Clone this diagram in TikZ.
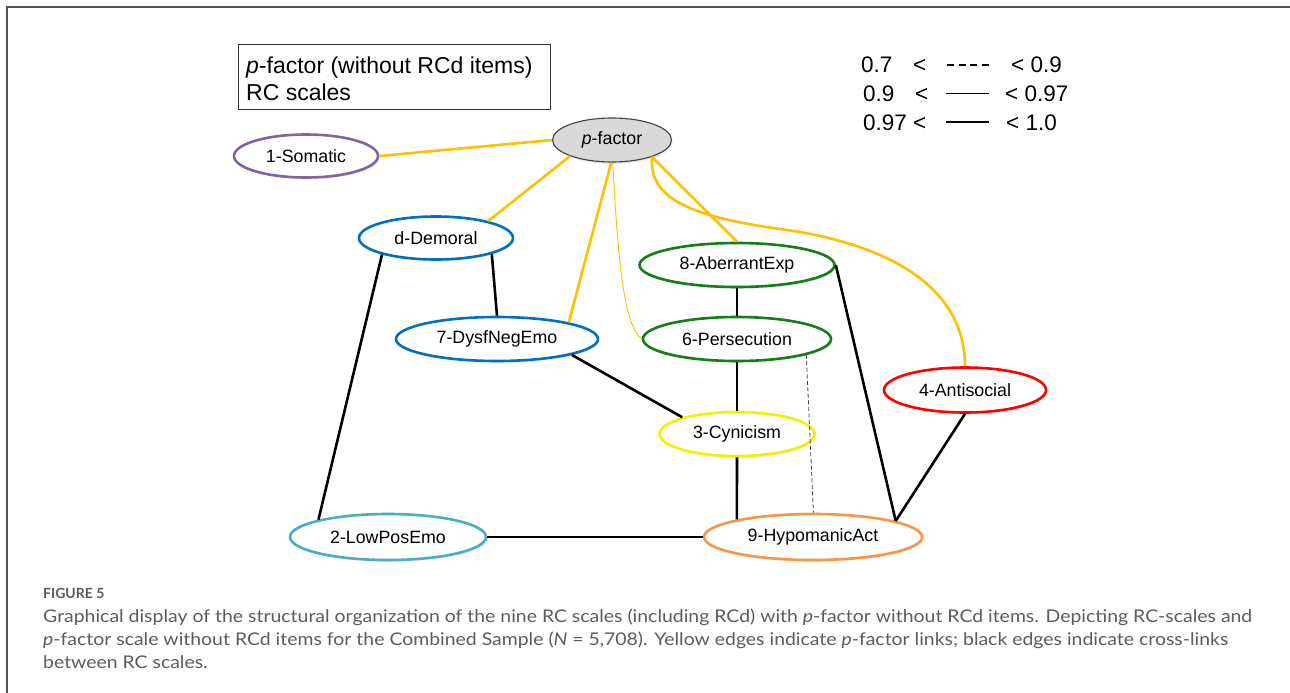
\documentclass[tikz,border=0pt]{standalone}
\usepackage{fontspec}
\usepackage{graphicx}
\setmainfont{Liberation Sans}
\newfontfamily\latofont{Lato}
\usetikzlibrary{shapes.geometric,shadows}
\definecolor{framegray}{RGB}{85,85,85}
\definecolor{somcol}{RGB}{128,100,162}
\definecolor{bluecol}{RGB}{0,112,192}
\definecolor{greencol}{RGB}{20,125,20}
\definecolor{yelcol}{RGB}{245,240,0}
\definecolor{redcol}{RGB}{255,0,0}
\definecolor{aquacol}{RGB}{75,172,198}
\definecolor{orangecol}{RGB}{247,150,70}
\definecolor{edgegold}{RGB}{255,192,0}
\definecolor{pffill}{RGB}{217,217,217}
\definecolor{pfline}{RGB}{64,64,64}
\definecolor{capgray}{RGB}{92,92,92}
\newlength\capw
\newcommand\mycapfont{\latofont\fontsize{17.5}{20}\selectfont}
\begin{document}
\settowidth{\capw}{\mycapfont Graphical display of the structural organization of the nine RC scales (including RCd) with \textit{p}-factor without RCd items. Depicting RC-scales and}%
\pgfmathsetmacro\capsc{1209/\capw}%
\begin{tikzpicture}[x=1pt,y=-1pt,
  rcnode/.style={ellipse, draw, line width=2.6pt, fill=white, inner sep=0pt,
    font=\fontsize{17.8}{20}\selectfont,
    drop shadow={opacity=0.18,shadow xshift=1.2pt,shadow yshift=-1.8pt}},
  pedge/.style={draw=edgegold, line width=2.6pt},
  pthin/.style={draw=edgegold, line width=0.9pt},
  xedge/.style={draw=black, line width=2.6pt},
  dedge/.style={draw=black!75, line width=0.8pt, dash pattern=on 4pt off 2.5pt},
  legtxt/.style={anchor=base west, inner sep=0pt, font=\fontsize{22.5}{26}\selectfont},
  captxt/.style={anchor=base west, inner sep=0pt, text=capgray}]
\useasboundingbox (0,0) rectangle (1290,693);
\fill[white] (0,0) rectangle (1290,693);
% frame
\draw[framegray, line width=1.6pt] (7,693) -- (7,7) -- (1290,7);
% legend box
\draw[line width=0.9pt, draw=black!80] (238,44) rectangle (550,109);
\node[legtxt, font=\fontsize{23}{26}\selectfont] (lb1) at (246,74) {\textit{p}-factor (without RCd items)};
\node[legtxt, font=\fontsize{23}{26}\selectfont] (lb2) at (246,100) {RC scales};
% line-style legend
\node[legtxt] (l1a) at (861,73) {0.7};
\node[legtxt] (l1b) at (913,73) {<};
\node[legtxt] (l1c) at (1011,73) {< 0.9};
\node[legtxt] (l2a) at (863,101) {0.9};
\node[legtxt] (l2b) at (915,101) {<};
\node[legtxt] (l2c) at (1005,101) {< 0.97};
\node[legtxt] (l3a) at (863,130) {0.97};
\node[legtxt] (l3b) at (913,130) {<};
\node[legtxt] (l3c) at (1006,130) {< 1.0};
\draw[black, line width=1.2pt, dash pattern=on 7pt off 4.5pt] (947,65) -- (990,65);
\draw[black, line width=0.7pt] (946,93) -- (989,93);
\draw[black, line width=2.2pt] (946,122) -- (989,122);
% nodes
\node[ellipse, draw=pfline, fill=pffill, line width=1.1pt, inner sep=0pt,
  minimum width=119pt, minimum height=44pt, font=\fontsize{17.8}{20}\selectfont,
  drop shadow={opacity=0.18,shadow xshift=1.2pt,shadow yshift=-1.8pt}]
  (pf) at (612,140) {\textit{p}-factor};
\node[rcnode, draw=somcol, minimum width=144pt, minimum height=43pt] (som) at (306,156) {1-Somatic};
\node[rcnode, draw=bluecol, minimum width=154pt, minimum height=43pt] (dem) at (436,238) {d-Demoral};
\node[rcnode, draw=bluecol, minimum width=202pt, minimum height=44pt] (dys) at (497,339) {7-DysfNegEmo};
\node[rcnode, draw=greencol, minimum width=195pt, minimum height=44pt] (abe) at (737,265) {8-AberrantExp};
\node[rcnode, draw=greencol, minimum width=188pt, minimum height=44pt] (per) at (737,339) {6-Persecution};
\node[rcnode, draw=yelcol, minimum width=155pt, minimum height=44pt] (cyn) at (737,434) {3-Cynicism};
\node[rcnode, draw=redcol, minimum width=162pt, minimum height=45pt] (ant) at (965,390) {4-Antisocial};
\node[rcnode, draw=aquacol, minimum width=196pt, minimum height=46pt] (low) at (388,537) {2-LowPosEmo};
\node[rcnode, draw=orangecol, minimum width=218pt, minimum height=46pt] (hyp) at (813,537) {9-HypomanicAct};
% p-factor links
\draw[pedge] (pf.west) -- (som.east);
\draw[pedge] (pf.201) -- (dem.18);
\draw[pedge] (pf.-92) -- (dys.13);
\draw[pthin] (pf.-88) .. controls (618,262) and (624,326) .. (per.west);
\draw[pedge] (pf.-23) -- (abe.north);
\draw[pedge] (pf.-23) .. controls (650,195) and (680,215) .. (780,229)
  .. controls (885,243) and (965,285) .. (ant.north);
% cross-links
\draw[xedge] (dem.197) -- (low.166);
\draw[xedge] (dem.-16) -- (dys.north);
\draw[xedge] (dys.-12.5) -- (cyn.163.5);
\draw[xedge] (abe.south) -- (per.north);
\draw[xedge] (per.south) -- (cyn.north);
\draw[xedge] (cyn.south) -- (hyp.167.7);
\draw[xedge] (abe.east) -- (hyp.11.6);
\draw[xedge] (ant.south) -- (hyp.11.6);
\draw[xedge] (low.east) -- (hyp.west);
\draw[dedge] (per.-13.5) -- (hyp.89);
% caption
\node[captxt, font=\latofont\bfseries\fontsize{14}{16}\selectfont] (fig) at (43,598) {FIGURE 5};
\node[captxt] (cap1) at (43,622) {\scalebox{\capsc}[1]{\mycapfont Graphical display of the structural organization of the nine RC scales (including RCd) with \textit{p}-factor without RCd items. Depicting RC-scales and}};
\node[captxt] (cap2) at (43,645) {\scalebox{\capsc}[1]{\mycapfont \textit{p}-factor scale without RCd items for the Combined Sample (\textit{N} = 5,708). Yellow edges indicate \textit{p}-factor links; black edges indicate cross-links}};
\node[captxt] (cap3) at (43,668) {\scalebox{\capsc}[1]{\mycapfont between RC scales.}};
\end{tikzpicture}
\end{document}
